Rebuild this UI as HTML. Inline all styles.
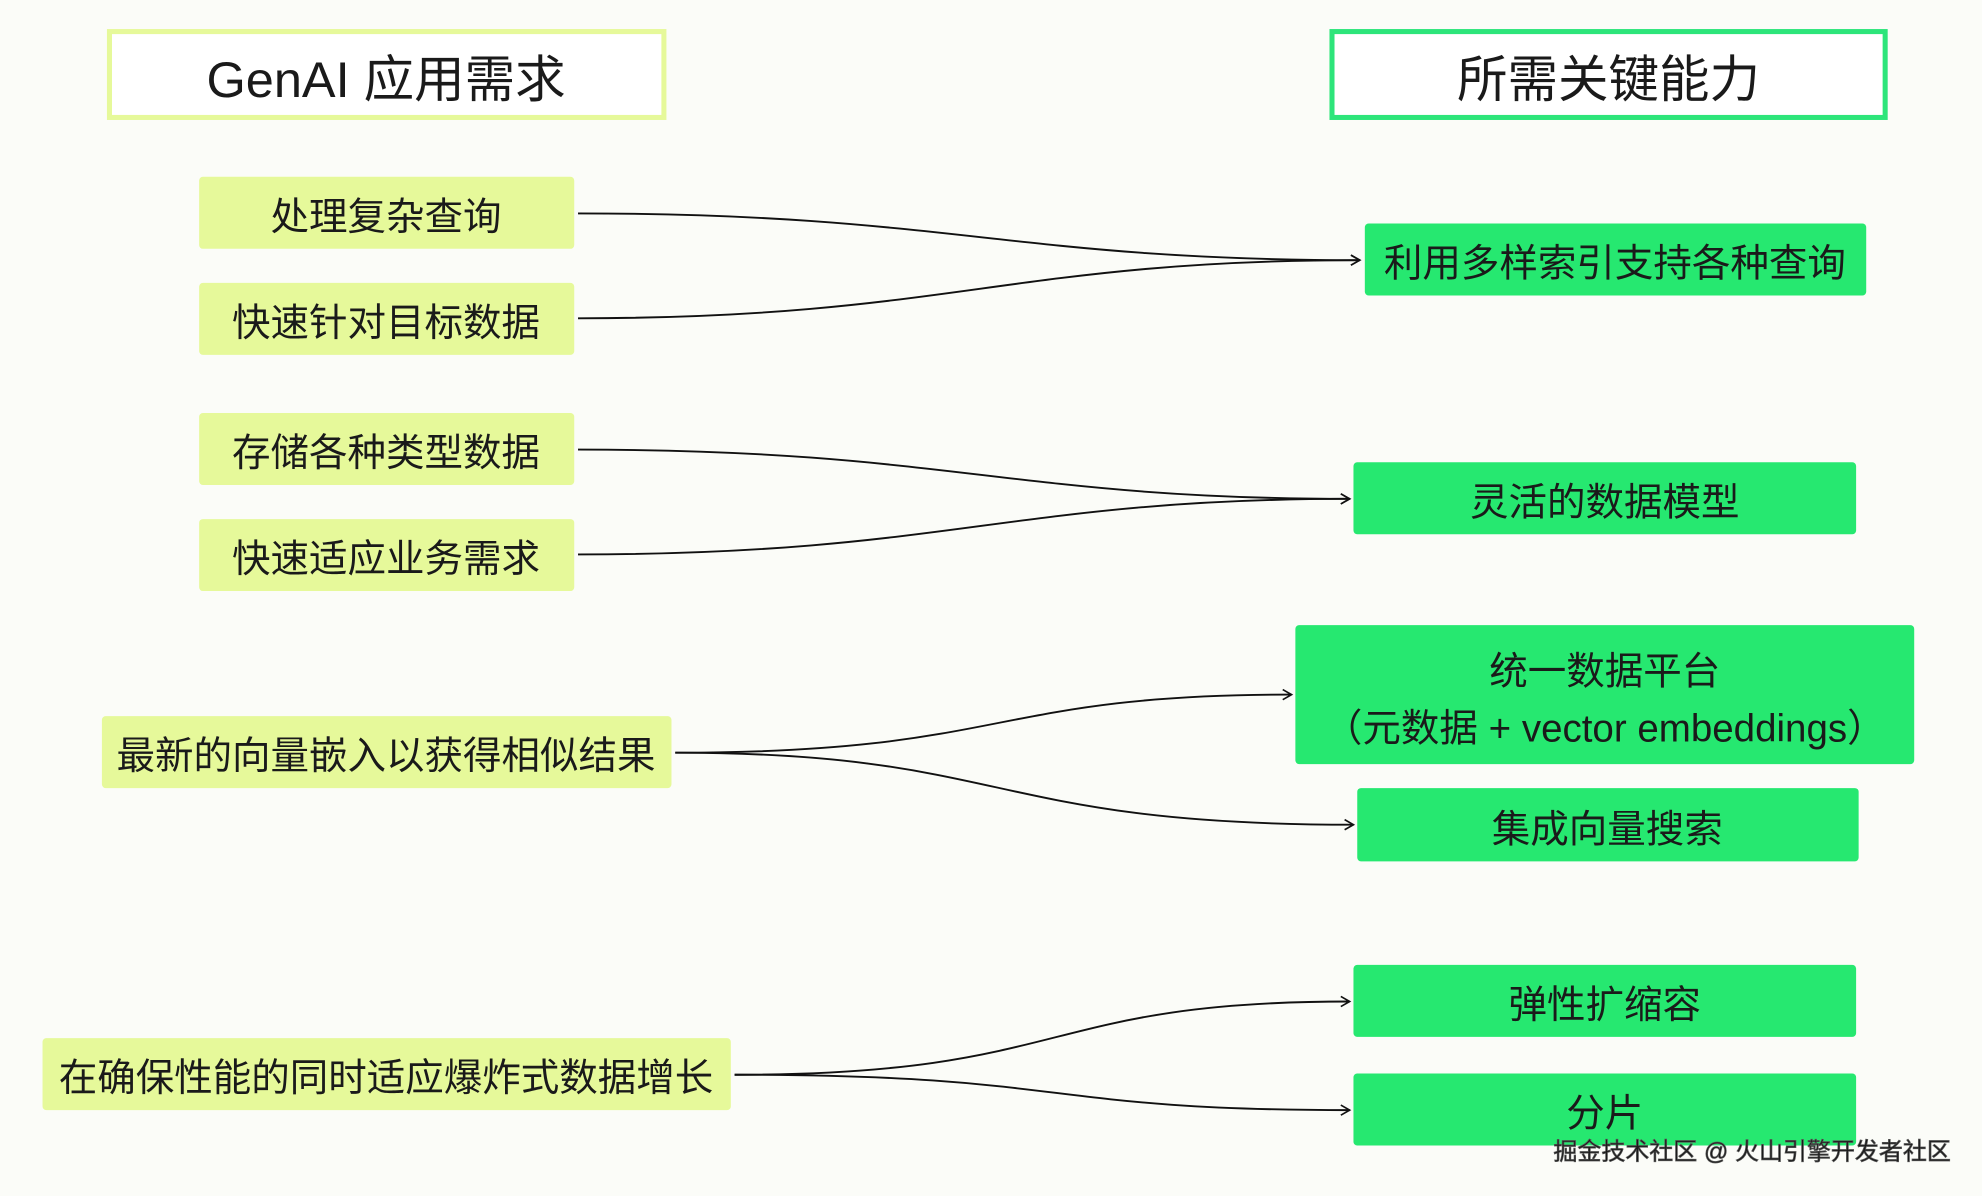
<!DOCTYPE html>
<html><head><meta charset="utf-8"><style>
html,body{margin:0;padding:0;background:#fbfcf8;}
svg{display:block}
text{font-family:"Liberation Sans","Noto Sans CJK SC",sans-serif;fill:#1a1a1a}
</style></head><body>
<svg width="1982" height="1196" viewBox="0 0 1568 947" xmlns="http://www.w3.org/2000/svg">
<defs><marker id="a" markerWidth="10" markerHeight="10" refX="8" refY="5" orient="auto" markerUnits="userSpaceOnUse"><path d="M1,1 L8,5 L1,9" fill="none" stroke="#111" stroke-width="1.3"/></marker></defs>
<rect width="1568" height="947" fill="#fbfcf8"/>
<rect x="86" y="25" width="439" height="68" fill="#fff" stroke="#e6f99a" stroke-width="4"/>
<text x="305" y="77" font-size="40" text-anchor="middle">GenAI 应用需求</text>
<rect x="1054" y="25" width="438" height="68" fill="#fff" stroke="#2de57a" stroke-width="4"/>
<text x="1273" y="77" font-size="40" text-anchor="middle">所需关键能力</text>
<g fill="#e6f99a">
<rect x="157" y="140" width="297" height="57" rx="3"/>
<rect x="157" y="224" width="297" height="57" rx="3"/>
<rect x="157" y="327" width="297" height="57" rx="3"/>
<rect x="157" y="411" width="297" height="57" rx="3"/>
<rect x="80" y="567" width="451" height="57" rx="3"/>
<rect x="33" y="822" width="545" height="57" rx="3"/>
</g>
<g font-size="30.5" text-anchor="middle">
<text x="305" y="182">处理复杂查询</text>
<text x="305" y="266">快速针对目标数据</text>
<text x="305" y="369">存储各种类型数据</text>
<text x="305" y="453">快速适应业务需求</text>
<text x="305" y="609">最新的向量嵌入以获得相似结果</text>
<text x="305" y="864">在确保性能的同时适应爆炸式数据增长</text>
</g>
<g fill="#26e870">
<rect x="1080" y="177" width="397" height="57" rx="3"/>
<rect x="1071" y="366" width="398" height="57" rx="3"/>
<rect x="1025" y="495" width="490" height="110" rx="3"/>
<rect x="1074" y="624" width="397" height="58" rx="3"/>
<rect x="1071" y="764" width="398" height="57" rx="3"/>
<rect x="1071" y="850" width="398" height="57" rx="3"/>
</g>
<g font-size="30.5" text-anchor="middle">
<text x="1278" y="219">利用多样索引支持各种查询</text>
<text x="1270" y="408">灵活的数据模型</text>
<text x="1270" y="542">统一数据平台</text>
<text x="1270" y="587">（元数据 + vector embeddings）</text>
<text x="1272" y="667">集成向量搜索</text>
<text x="1270" y="806">弹性扩缩容</text>
<text x="1270" y="892">分片</text>
</g>
<g fill="none" stroke="#111" stroke-width="1.5" marker-end="url(#a)">
<path d="M457,169 C750,169 800,206 1076,206"/>
<path d="M457,252 C750,252 800,206 1076,206"/>
<path d="M457,356 C750,356 800,395 1068,395"/>
<path d="M457,439 C750,439 800,395 1068,395"/>
<path d="M534,596 C800,596 780,550 1022,550"/>
<path d="M534,596 C800,596 780,653 1071,653"/>
<path d="M581,851 C850,851 820,793 1068,793"/>
<path d="M581,851 C850,851 820,879 1068,879"/>
</g>
<text x="1544" y="918" font-size="19" text-anchor="end" fill="#fff" stroke="#555" stroke-width="0.6">掘金技术社区 @ 火山引擎开发者社区</text>
</svg>
</body></html>
